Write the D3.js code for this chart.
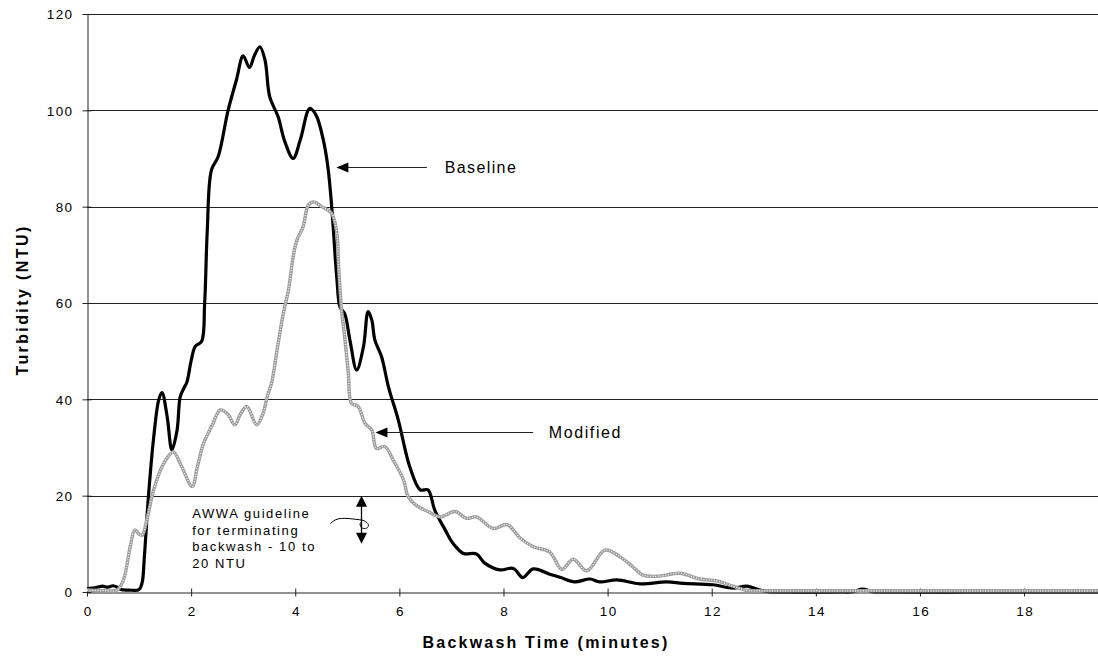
<!DOCTYPE html>
<html>
<head>
<meta charset="utf-8">
<script src="https://cdn.jsdelivr.net/npm/d3@7"></script>
<style>
body{margin:0;background:#fff;}
svg text{font-family:Arial,"Liberation Sans",sans-serif;fill:#000;}
</style>
</head>
<body>
<svg id="chart" width="1098" height="656"></svg>
<script>

// values (minutes, NTU)
var baselineTime = [0,0.1,0.2,0.3,0.4,0.5,0.58,0.65,0.8,1.0,1.06,1.1,1.18,1.28,1.38,1.44,1.54,1.63,1.73,1.79,1.86,1.92,2.0,2.08,2.2,2.26,2.31,2.39,2.52,2.71,2.87,3.0,3.12,3.22,3.32,3.42,3.51,3.67,3.8,3.96,4.1,4.28,4.4,4.54,4.63,4.7,4.8,4.86,4.95,5.05,5.18,5.31,5.4,5.47,5.53,5.66,5.79,5.98,6.2,6.4,6.55,6.68,6.88,7.03,7.23,7.48,7.64,7.93,8.19,8.37,8.57,8.89,9.1,9.37,9.66,9.85,10.18,10.62,11.14,11.45,12.02,12.41,12.67,12.93,13.1,13.3,14.5,14.7,14.9,15.1,15.3,17,19.42];
var baselineNTU  = [0.7,0.8,1.0,1.2,1.0,1.3,1.0,0.5,0.4,0.5,2,7,19.8,32,40,41.4,36.4,29.5,33.6,40.5,42.3,43.6,48,51,52,60,75,87.6,90.4,100,106.3,111.3,108.9,111.5,113.2,110.4,102.8,98.7,93.5,90,94,100.4,99,93.8,88,80,65,59.2,57.8,52.3,46.1,50.9,58.2,56.5,52.3,48.8,42.6,35.7,26,21.2,21.2,17,12.9,10.1,8,7.9,6,4.6,4.9,3,4.8,3.7,3,2.1,2.7,2.1,2.5,1.7,2.1,1.8,1.5,0.8,1.2,0.4,0.05,0,0,0.05,0.6,0.05,0,0,0];

var modifiedTime = [0,0.3,0.58,0.7,0.83,0.92,1.0,1.06,1.15,1.28,1.44,1.55,1.66,1.82,2.02,2.12,2.24,2.4,2.56,2.7,2.84,2.95,3.07,3.26,3.38,3.46,3.55,3.64,3.77,3.87,3.96,4.03,4.15,4.25,4.35,4.51,4.7,4.8,4.83,4.89,4.95,5.02,5.08,5.21,5.34,5.47,5.56,5.72,5.88,6.08,6.17,6.36,6.55,6.78,7.07,7.29,7.48,7.8,8.07,8.32,8.57,8.89,9.12,9.34,9.6,9.95,10.24,10.49,10.68,11.0,11.39,11.77,12.1,12.41,12.67,12.9,13.2,16,19.42];
var modifiedNTU  = [0.4,0.3,0.4,2.5,9.4,12.9,12.0,11.8,15,21.2,26,28,29.1,26,21.9,26,30.9,34.5,37.8,37,34.7,37,38.5,34.7,37,40.5,43.6,49.5,57.8,62.7,69.6,73,75.8,80.3,81,80,78.6,74.5,68.2,58.5,53,45.4,39.2,38.5,35,33.6,29.8,30.2,27.4,23.3,19.8,17.7,16.7,15.6,16.7,15.3,15.6,13.2,14,11.2,9.4,8.3,4.7,6.8,4.4,8.7,7.3,5.2,3.5,3.3,3.9,2.7,2.3,1.2,0.35,0.25,0.25,0.25,0.25];

var yTicks = [0,20,40,60,80,100,120];
var xTicks = [0,2,4,6,8,10,12,14,16,18];

var guideLines = ["AWWA guideline","for terminating","backwash - 10 to","20 NTU"];

var svg = d3.select("#chart");

var x = d3.scaleLinear().domain([0,19.42]).range([87,1098]);
var y = d3.scaleLinear().domain([0,120]).range([592,14]);

function px(v){ return Math.round(v)+0.5; }

// gridlines
svg.append("g").selectAll("line")
	.data(yTicks.filter(function(d){return d>0}))
	.enter().append("line")
	.attr("x1",87).attr("x2",1098)
	.attr("y1",function(d){return px(y(d))})
	.attr("y2",function(d){return px(y(d))})
	.attr("stroke","#222").attr("stroke-width",1);

// y axis
var gy = svg.append("g").attr("transform","translate("+px(87)+",0)")
	.call(d3.axisLeft(y).tickValues(yTicks).tickSize(5).tickSizeOuter(0));
gy.select(".domain").attr("stroke","#222");
gy.selectAll(".tick line").attr("x1",4).attr("x2",-5).attr("stroke","#222");
gy.selectAll(".tick text").attr("x",-14).attr("dy","0.36em")
	.style("font-size","13.5px").style("letter-spacing","1.4px")
	.style("font-family","Arial, 'Liberation Sans', sans-serif");

// x axis
var gx = svg.append("g").attr("transform","translate(0,"+px(592)+")")
	.call(d3.axisBottom(x).tickValues(xTicks).tickSize(4).tickSizeOuter(0));
gx.select(".domain").attr("stroke","#222");
gx.selectAll(".tick line").attr("y1",-4).attr("y2",4).attr("stroke","#222");
gx.selectAll(".tick text").attr("y",14).attr("dy","0.71em").attr("dx","0.7px")
	.style("font-size","13.5px").style("letter-spacing","1.5px")
	.style("font-family","Arial, 'Liberation Sans', sans-serif");

// axis titles
svg.append("text")
	.attr("x",546).attr("y",648)
	.attr("text-anchor","middle")
	.style("font-size","16px").style("font-weight","bold").style("letter-spacing","2.2px")
	.text("Backwash Time (minutes)");

svg.append("text")
	.attr("transform","translate(28,300) rotate(-90)")
	.attr("text-anchor","middle")
	.style("font-size","16px").style("font-weight","bold").style("letter-spacing","2.4px")
	.text("Turbidity (NTU)");

// series
var line = d3.line()
	.x(function(d){return x(d[0])})
	.y(function(d){return y(d[1])})
	.curve(d3.curveCatmullRom.alpha(0.5));

var baseData = d3.zip(baselineTime, baselineNTU);
var modData = d3.zip(modifiedTime, modifiedNTU);

svg.append("path").datum(baseData)
	.attr("d",line)
	.attr("fill","none").attr("stroke","#000").attr("stroke-width",3.2)
	.attr("stroke-linejoin","round");

svg.append("path").datum(modData)
	.attr("d",line)
	.attr("fill","none").attr("stroke","#9d9d9d").attr("stroke-width",3.4)
	.attr("stroke-linejoin","round");
svg.append("path").datum(modData)
	.attr("d",line)
	.attr("fill","none").attr("stroke","#f6f6f6").attr("stroke-width",1.3)
	.attr("stroke-dasharray","1,1.6");

// annotations
function arrowLeft(x1, x2, yv){
	var yy = px(y(yv));
	svg.append("line")
		.attr("x1",x(x1)+11).attr("x2",x(x2))
		.attr("y1",yy).attr("y2",yy)
		.attr("stroke","#222").attr("stroke-width",1);
	svg.append("path")
		.attr("d","M"+x(x1)+","+yy+"L"+(x(x1)+12)+","+(yy-5)+"L"+(x(x1)+12)+","+(yy+5)+"Z")
		.attr("fill","#000");
}

arrowLeft(4.79, 6.53, 88.3);
svg.append("text").attr("x",x(6.87)).attr("y",px(y(88.3))+5)
	.style("font-size","16px").style("letter-spacing","1.4px")
	.text("Baseline");

arrowLeft(5.54, 8.57, 33.2);
svg.append("text").attr("x",x(8.87)).attr("y",px(y(33.2))+5)
	.style("font-size","16px").style("letter-spacing","1.6px")
	.text("Modified");

// AWWA guideline band (10 to 20 NTU)
var ax = px(x(5.27));
svg.append("line")
	.attr("x1",ax).attr("x2",ax)
	.attr("y1",y(20)+10).attr("y2",y(10)-10)
	.attr("stroke","#000").attr("stroke-width",1.3);
svg.append("path")
	.attr("d","M"+ax+","+y(20)+"L"+(ax-5.5)+","+(y(20)+11)+"L"+(ax+5.5)+","+(y(20)+11)+"Z")
	.attr("fill","#000");
svg.append("path")
	.attr("d","M"+ax+","+y(10)+"L"+(ax-5.5)+","+(y(10)-11)+"L"+(ax+5.5)+","+(y(10)-11)+"Z")
	.attr("fill","#000");

// little squiggle pointing at the band
var sq = d3.path();
sq.moveTo(ax-31, y(14.2));
sq.bezierCurveTo(ax-25, y(15.6), ax-18, y(15.4), ax-2, y(15.0));
sq.bezierCurveTo(ax+8, y(14.8), ax+9, y(13.4), ax+4, y(13.2));
sq.bezierCurveTo(ax-1, y(13.0), ax-3, y(14.2), ax, y(14.6));
svg.append("path").attr("d",sq.toString())
	.attr("fill","none").attr("stroke","#000").attr("stroke-width",1);

svg.append("g").selectAll("text")
	.data(guideLines)
	.enter().append("text")
	.attr("x",x(2.02))
	.attr("y",function(d,i){return 518+i*16.5})
	.style("font-size","13px").style("letter-spacing","1.6px")
	.text(function(d){return d});

</script>
</body>
</html>
